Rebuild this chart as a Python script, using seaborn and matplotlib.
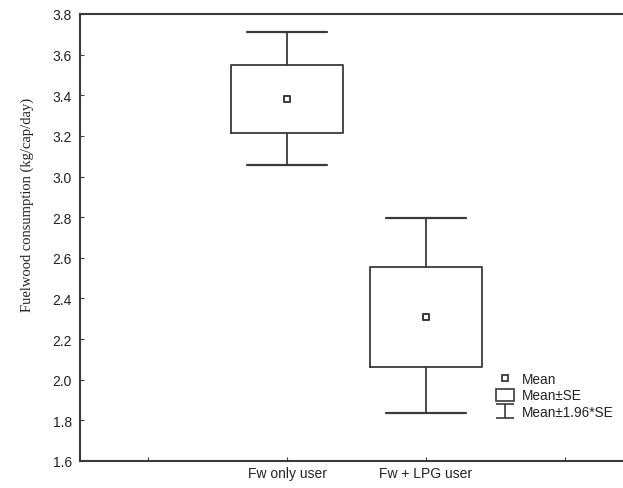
import numpy as np
import pandas as pd
import matplotlib
matplotlib.use("Agg")
import matplotlib.pyplot as plt
import seaborn as sns
from matplotlib.lines import Line2D
from matplotlib.patches import Patch
from matplotlib.path import Path

# ---- data ----
groups = ["Fw only user", "Fw + LPG user"]
means = [3.38, 2.31]
se_low = [3.215, 2.065]
se_high = [3.548, 2.557]
ci_low = [3.055, 1.835]
ci_high = [3.712, 2.795]
y_ticks = [1.6, 1.8, 2.0, 2.2, 2.4, 2.6, 2.8, 3.0, 3.2, 3.4, 3.6, 3.8]
legend_labels = ["Mean", "Mean\u00b1SE", "Mean\u00b11.96*SE"]

sns.set_style("ticks")
plt.rcParams["font.family"] = ["Liberation Sans", "DejaVu Sans"]

LC = "#3a3a3a"
fig = plt.figure(figsize=(6.23, 4.89), dpi=100)
ax = fig.add_axes([80 / 623, 1 - 462 / 489, (640 - 80) / 623, (462 - 15) / 489])

stats = []
for g, m, sl, sh, cl, ch in zip(groups, means, se_low, se_high, ci_low, ci_high):
    stats.append(dict(label=g, med=m, q1=sl, q3=sh, whislo=cl, whishi=ch, fliers=[]))

ax.bxp(stats, positions=[0, 1], widths=0.8, capwidths=0.57, showfliers=False,
       boxprops=dict(color=LC, linewidth=1.3),
       whiskerprops=dict(color=LC, linewidth=1.3),
       capprops=dict(color=LC, linewidth=1.6),
       medianprops=dict(linewidth=0))

df = pd.DataFrame({"group": groups, "mean": means, "pos": [0, 1]})
sns.scatterplot(data=df, x="pos", y="mean", marker="s", s=24, color="white",
                edgecolor=LC, linewidth=1.4, ax=ax, zorder=5, legend=False)

ax.set_xlim(-1.49, (640 - 287) / 139)
ax.set_ylim(1.6, 3.8)
ax.set_xticks([-1, 0, 1, 2])
ax.set_xticklabels(["", groups[0], groups[1], ""])
ax.set_yticks(y_ticks)
ax.set_yticklabels([f"{v:.1f}" for v in y_ticks])
ax.tick_params(direction="in", length=3, width=0.8, labelsize=10, colors=LC,
               labelcolor="#222222", pad=6)
ax.tick_params(axis="x", pad=3.5)
ax.set_xlabel("")
ax.set_ylabel("Fuelwood consumption (kg/cap/day)", family=["Liberation Serif"],
              fontsize=10.5, color="#222222")
ax.yaxis.set_label_coords(-0.083, 0.575)
for sp in ax.spines.values():
    sp.set_color(LC)
    sp.set_linewidth(1.5)

whisk_path = Path([(-0.5, 0.39), (0.5, 0.39), (0, 0.39), (0, -0.39), (-0.5, -0.39), (0.5, -0.39)],
                  [Path.MOVETO, Path.LINETO, Path.MOVETO, Path.LINETO, Path.MOVETO, Path.LINETO])
handles = [
    Line2D([], [], linestyle="none", marker="s", markersize=4.5, markerfacecolor="white",
           markeredgecolor=LC, markeredgewidth=1.3),
    Patch(facecolor="white", edgecolor=LC, linewidth=1.2),
    Line2D([], [], linestyle="none", marker=whisk_path, markersize=13, markerfacecolor="none",
           markeredgecolor=LC, markeredgewidth=1.2),
]
leg = fig.legend(handles, legend_labels, loc="upper left",
                 bbox_to_anchor=(496 / 623, 1 - 373 / 489), frameon=False,
                 fontsize=9.8, handlelength=1.32, handleheight=1.0, handletextpad=0.6,
                 labelspacing=0.18, borderpad=0, borderaxespad=0)
for t in leg.get_texts():
    t.set_color("#222222")

fig.savefig("out.png", dpi=100)
